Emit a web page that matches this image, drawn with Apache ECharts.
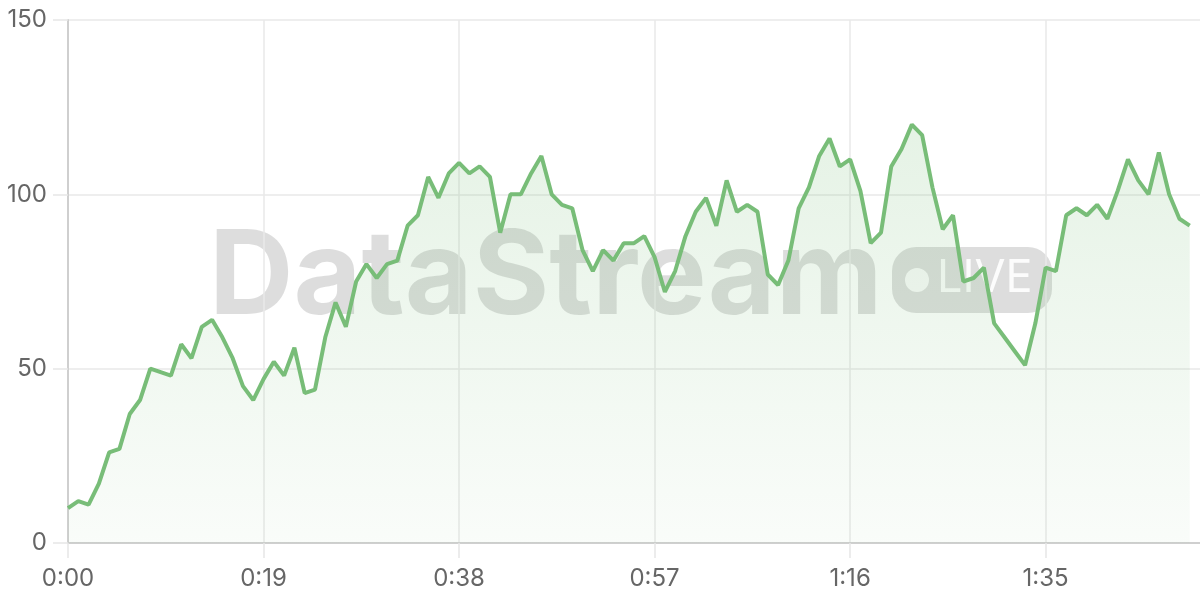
<!DOCTYPE html>
<html>
<head>
<meta charset="utf-8">
<script src="https://cdn.jsdelivr.net/npm/echarts@6/dist/echarts.min.js"></script>
<style>
html,body{margin:0;padding:0;background:#fff;}
#chart{width:1200px;height:600px;}
</style>
</head>
<body>
<div id="chart"></div>
<script>
// Seconds on the x axis (category positions 0..110)
const seconds = Array.from({length: 111}, (_, i) => i);
// Series values, one per second
const values = [10,12,11,17,26,27,37,41,50,49,48,57,53,62,64,59,53,45,41,47,
52,48,56,43,44,59,69,62,75,80,76,80,81,91,94,105,99,106,109,106,
108,105,89,100,100,106,111,100,97,96,84,78,84,81,86,86,88,82,72,78,
88,95,99,91,104,95,97,95,77,74,81,96,102,111,116,108,110,101,86,89,
108,113,120,117,102,90,94,75,76,79,63,59,55,51,63,79,78,94,96,94,
97,93,101,110,104,100,112,100,93,91];
const yTicks = [0, 50, 100, 150];
const labelEvery = 19;

function fmt(s){ const m = Math.floor(s/60); const r = s % 60; return m + ':' + (r < 10 ? '0' : '') + r; }

const chart = echarts.init(document.getElementById('chart'));
const green = '#78bd78';
chart.setOption({
  animation: false,
  backgroundColor: '#ffffff',
  grid: {left: 68, right: 0, top: 20, bottom: 57, containLabel: false},
  graphic: [
    {type: 'text', z: -10, left: 209, top: 220,
     style: {text: 'DataStream', font: 'bold 117px Inter', fill: 'rgba(0,0,0,0.135)'}},
    {type: 'rect', z: -10, shape: {x: 892, y: 247, width: 160, height: 66, r: 24},
     style: {fill: 'rgba(0,0,0,0.135)'}},
    {type: 'circle', z: -9, shape: {cx: 917, cy: 280, r: 12},
     style: {fill: 'rgba(255,255,255,0.85)'}},
    {type: 'text', z: -9, left: 937, top: 256,
     style: {text: 'LIVE', font: '45px Inter', fill: 'rgba(255,255,255,0.9)'}}
  ],
  xAxis: {
    type: 'category',
    data: seconds.map(fmt),
    boundaryGap: false,
    axisLine: {show: true, lineStyle: {color: '#cfcfcf', width: 2}},
    axisTick: {show: true, length: 15, interval: labelEvery - 1, lineStyle: {color: '#e6e6e6', width: 1.5}},
    splitLine: {show: true, interval: labelEvery - 1, lineStyle: {color: '#e9e9e9', width: 1.5}},
    axisLabel: {interval: labelEvery - 1, margin: 24, color: '#666', fontSize: 24, fontFamily: 'Inter'}
  },
  yAxis: {
    type: 'value',
    min: yTicks[0], max: yTicks[yTicks.length - 1], interval: 50,
    axisLine: {show: true, lineStyle: {color: '#cfcfcf', width: 2}},
    axisTick: {show: true, length: 15, lineStyle: {color: '#e6e6e6', width: 1.5}},
    splitLine: {show: true, lineStyle: {color: '#e9e9e9', width: 1.5}},
    axisLabel: {margin: 21, color: '#666', fontSize: 24, fontFamily: 'Inter'}
  },
  series: [{
    type: 'line',
    data: values,
    symbol: 'none',
    smooth: false,
    z: 5,
    lineStyle: {color: green, width: 4},
    areaStyle: {
      color: new echarts.graphic.LinearGradient(0, 0, 0, 1, [
        {offset: 0, color: 'rgba(120,189,120,0.27)'},
        {offset: 1, color: 'rgba(120,189,120,0.06)'}
      ])
    }
  }]
});
</script>
</body>
</html>
